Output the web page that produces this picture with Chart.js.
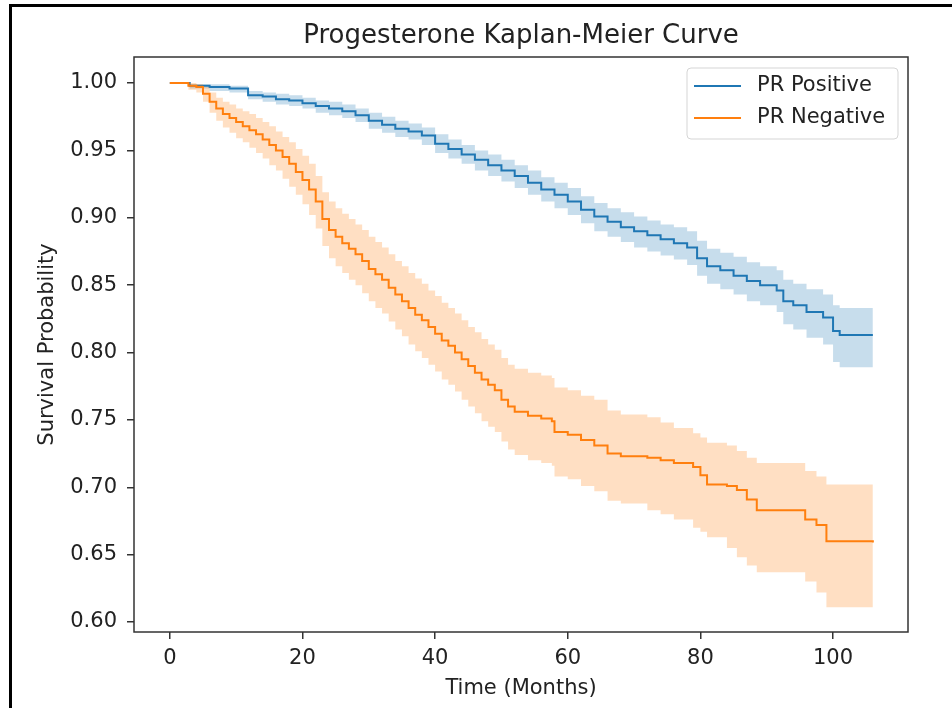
<!DOCTYPE html>
<html>
<head>
<meta charset="utf-8">
<script src="https://cdn.jsdelivr.net/npm/chart.js@4.4.1/dist/chart.umd.min.js"></script>
<style>
  html, body { margin: 0; padding: 0; background: #fff; overflow: hidden; }
  #wrap { position: relative; width: 952px; height: 708px; }
  #frame { position: absolute; left: 9px; top: 4px; width: 1000px; height: 800px; border: 3px solid #000; box-sizing: border-box; pointer-events: none; }
  canvas { position: absolute; left: 0; top: 0; }
</style>
</head>
<body>
<div id="wrap">
  <canvas id="chart" width="952" height="708"></canvas>
  <div id="frame"></div>
</div>
<script>
const chartTitle = 'Progesterone Kaplan-Meier Curve'
const xTicks = [0, 20, 40, 60, 80, 100]
const yTicks = [0.60, 0.65, 0.70, 0.75, 0.80, 0.85, 0.90, 0.95, 1.00]

// PR Positive
const posTime = [0, 3, 6, 9, 11.8, 14, 16, 18, 20, 22, 24, 26, 28, 30, 32, 34, 36, 38, 40, 42, 44, 46, 48, 50, 52, 54, 56, 58, 60, 62, 64, 66, 68, 70, 72, 74, 76, 78, 79.5, 81, 83, 85, 87, 89, 91.5, 92.5, 94, 96, 98.5, 100, 101, 106]
const posSurv = [1.000, 0.998, 0.997, 0.996, 0.991, 0.990, 0.988, 0.987, 0.985, 0.983, 0.981, 0.979, 0.976, 0.972, 0.969, 0.966, 0.964, 0.961, 0.955, 0.951, 0.947, 0.943, 0.939, 0.935, 0.931, 0.926, 0.921, 0.917, 0.912, 0.906, 0.901, 0.897, 0.893, 0.890, 0.887, 0.884, 0.881, 0.878, 0.870, 0.864, 0.861, 0.857, 0.853, 0.850, 0.846, 0.838, 0.835, 0.830, 0.826, 0.816, 0.813, 0.813]
const posUpper = [1.000, 0.999, 0.999, 0.998, 0.994, 0.993, 0.992, 0.991, 0.989, 0.987, 0.986, 0.984, 0.981, 0.978, 0.975, 0.972, 0.970, 0.967, 0.962, 0.958, 0.954, 0.950, 0.947, 0.943, 0.939, 0.935, 0.930, 0.926, 0.922, 0.916, 0.911, 0.907, 0.904, 0.901, 0.898, 0.895, 0.893, 0.890, 0.883, 0.877, 0.874, 0.871, 0.867, 0.864, 0.861, 0.854, 0.851, 0.847, 0.843, 0.835, 0.833, 0.833]
const posLower = [1.000, 0.996, 0.994, 0.993, 0.988, 0.986, 0.984, 0.983, 0.981, 0.978, 0.976, 0.974, 0.971, 0.966, 0.963, 0.960, 0.958, 0.954, 0.948, 0.944, 0.940, 0.935, 0.931, 0.927, 0.922, 0.917, 0.912, 0.907, 0.902, 0.896, 0.890, 0.886, 0.882, 0.878, 0.875, 0.872, 0.869, 0.865, 0.857, 0.851, 0.847, 0.843, 0.838, 0.835, 0.830, 0.821, 0.817, 0.811, 0.806, 0.793, 0.789, 0.789]

// PR Negative
const negTime = [0, 2.8, 4, 5, 6, 7, 8, 9, 10, 11, 12, 13, 14, 15, 16, 17, 18, 19, 20, 21, 22, 23, 24, 25, 26, 27, 28, 29, 30, 31, 32, 33, 34, 35, 36, 37, 38, 39, 40, 41, 42, 43, 44, 45, 46, 47, 48, 49, 50, 51, 52, 54, 56, 57.6, 58, 60, 62, 64, 66, 68, 72, 74, 76, 78.9, 80, 81, 84, 85.5, 87, 88.5, 95.8, 97.5, 99, 106]
const negSurv = [1.000, 0.998, 0.997, 0.992, 0.986, 0.981, 0.977, 0.974, 0.971, 0.968, 0.965, 0.962, 0.958, 0.954, 0.950, 0.945, 0.940, 0.934, 0.928, 0.921, 0.912, 0.899, 0.891, 0.886, 0.881, 0.877, 0.873, 0.868, 0.862, 0.858, 0.854, 0.848, 0.843, 0.838, 0.833, 0.828, 0.824, 0.819, 0.814, 0.809, 0.805, 0.800, 0.795, 0.790, 0.785, 0.780, 0.776, 0.772, 0.765, 0.760, 0.756, 0.753, 0.751, 0.749, 0.741, 0.739, 0.735, 0.731, 0.725, 0.723, 0.722, 0.720, 0.718, 0.715, 0.709, 0.702, 0.701, 0.698, 0.691, 0.683, 0.676, 0.672, 0.660, 0.659]
const negUpper = [1.000, 1.000, 0.999, 0.997, 0.993, 0.989, 0.986, 0.984, 0.981, 0.979, 0.977, 0.974, 0.971, 0.968, 0.964, 0.960, 0.956, 0.951, 0.946, 0.940, 0.931, 0.919, 0.912, 0.907, 0.903, 0.899, 0.895, 0.891, 0.886, 0.882, 0.878, 0.873, 0.868, 0.864, 0.859, 0.855, 0.851, 0.846, 0.842, 0.837, 0.833, 0.829, 0.824, 0.819, 0.815, 0.810, 0.806, 0.802, 0.796, 0.791, 0.788, 0.785, 0.783, 0.781, 0.774, 0.772, 0.768, 0.765, 0.757, 0.754, 0.752, 0.748, 0.744, 0.740, 0.737, 0.733, 0.731, 0.727, 0.722, 0.718, 0.712, 0.708, 0.702, 0.702]
const negLower = [1.000, 0.995, 0.993, 0.986, 0.978, 0.972, 0.967, 0.963, 0.959, 0.956, 0.952, 0.948, 0.944, 0.939, 0.935, 0.929, 0.923, 0.917, 0.910, 0.902, 0.892, 0.879, 0.870, 0.864, 0.859, 0.854, 0.850, 0.844, 0.838, 0.833, 0.829, 0.823, 0.817, 0.812, 0.806, 0.801, 0.796, 0.791, 0.786, 0.780, 0.776, 0.771, 0.765, 0.760, 0.755, 0.749, 0.745, 0.741, 0.734, 0.728, 0.724, 0.720, 0.718, 0.716, 0.708, 0.706, 0.701, 0.697, 0.690, 0.688, 0.683, 0.680, 0.676, 0.670, 0.667, 0.663, 0.655, 0.648, 0.642, 0.637, 0.630, 0.622, 0.611, 0.611]

const BLUE = '#1f77b4'
const ORANGE = '#ff7f0e'
const FONT = 'DejaVu Sans'
const TEXT = '#222'

const pts = (xs, ys) => xs.map((x, i) => ({x, y: ys[i]}))

const band = (label, xs, ys, color, fill, order) => ({
  label, data: pts(xs, ys), stepped: true, borderWidth: 0, pointRadius: 0,
  backgroundColor: color, fill, order
})
const curve = (label, xs, ys, color, order) => ({
  label, data: pts(xs, ys), stepped: true, borderWidth: 2, borderColor: color,
  pointRadius: 0, fill: false, order
})

// box around the plot, like matplotlib spines
const framePlugin = {
  id: 'frame',
  afterDatasetsDraw(chart) {
    const {ctx, chartArea: a} = chart
    ctx.save()
    ctx.strokeStyle = '#333'
    ctx.lineWidth = 1.5
    ctx.strokeRect(a.left, a.top, a.right - a.left, a.bottom - a.top)
    ctx.restore()
  }
}

// title centred over the plot area (matplotlib axes title)
const axesTitle = {
  id: 'axesTitle',
  afterDraw(chart) {
    const {ctx, chartArea: a} = chart
    ctx.save()
    ctx.font = '26px ' + FONT
    ctx.fillStyle = TEXT
    ctx.textAlign = 'center'
    ctx.textBaseline = 'alphabetic'
    ctx.fillText(chartTitle, (a.left + a.right) / 2, a.top - 14)
    ctx.restore()
  }
}

// legend drawn inside the plot, upper right
const boxLegend = {
  id: 'boxLegend',
  afterDatasetsDraw(chart) {
    const {ctx, chartArea: a} = chart
    const items = chart.data.datasets.filter(d => d.legend)
    const w = 211, h = 71, r = 4
    const x0 = a.right - 10 - w, y0 = a.top + 11
    ctx.save()
    ctx.fillStyle = 'rgba(255,255,255,0.8)'
    ctx.strokeStyle = '#d5d5d5'
    ctx.lineWidth = 1
    ctx.beginPath()
    ctx.roundRect(x0, y0, w, h, r)
    ctx.fill()
    ctx.stroke()
    ctx.font = '21px ' + FONT
    ctx.textBaseline = 'middle'
    items.forEach((d, i) => {
      const y = y0 + 18 + i * 32
      ctx.strokeStyle = d.borderColor
      ctx.lineWidth = 2
      ctx.beginPath()
      ctx.moveTo(x0 + 7, y)
      ctx.lineTo(x0 + 54, y)
      ctx.stroke()
      ctx.fillStyle = TEXT
      ctx.fillText(d.label, x0 + 70, y)
    })
    ctx.restore()
  }
}

const posLine = curve('PR Positive', posTime, posSurv, BLUE, 3)
posLine.legend = true
const negLine = curve('PR Negative', negTime, negSurv, ORANGE, 1)
negLine.legend = true

new Chart(document.getElementById('chart'), {
  type: 'line',
  data: {
    datasets: [
      band('PR Positive upper', posTime, posUpper, 'rgba(31,119,180,0.25)', '+1', 4),
      band('PR Positive lower', posTime, posLower, 'rgba(31,119,180,0)', false, 4),
      posLine,
      band('PR Negative upper', negTime, negUpper, 'rgba(255,127,14,0.25)', '+1', 2),
      band('PR Negative lower', negTime, negLower, 'rgba(255,127,14,0)', false, 2),
      negLine
    ]
  },
  options: {
    responsive: false,
    animation: false,
    devicePixelRatio: 1,
    layout: { padding: { left: 0, right: 44, top: 57, bottom: 0 } },
    plugins: {
      legend: { display: false },
      tooltip: { enabled: false },
      title: { display: false }
    },
    scales: {
      x: {
        type: 'linear',
        min: -5.4,
        max: 111.3,
        afterBuildTicks: s => { s.ticks = xTicks.map(v => ({value: v})) },
        afterFit: s => { s.height = 76 },
        border: { display: false },
        grid: { drawOnChartArea: false, drawTicks: true, tickLength: 7, color: '#333', lineWidth: 1.5 },
        ticks: { color: TEXT, padding: 7, maxRotation: 0, font: { family: FONT, size: 21 } },
        title: {
          display: true, text: 'Time (Months)', color: TEXT,
          font: { family: FONT, size: 21 }, padding: { top: 0, bottom: 7 }
        }
      },
      y: {
        type: 'linear',
        min: 0.5926,
        max: 1.0193,
        afterBuildTicks: s => { s.ticks = yTicks.map(v => ({value: v})) },
        afterFit: s => { s.width = 134 },
        border: { display: false },
        grid: { drawOnChartArea: false, drawTicks: true, tickLength: 7, color: '#333', lineWidth: 1.5 },
        ticks: { color: TEXT, padding: 10, font: { family: FONT, size: 21 }, callback: v => v.toFixed(2) },
        title: {
          display: true, text: 'Survival Probability', color: TEXT,
          font: { family: FONT, size: 21 }, padding: { top: 35, bottom: 0 }
        }
      }
    }
  },
  plugins: [framePlugin, axesTitle, boxLegend]
})
</script>
</body>
</html>
